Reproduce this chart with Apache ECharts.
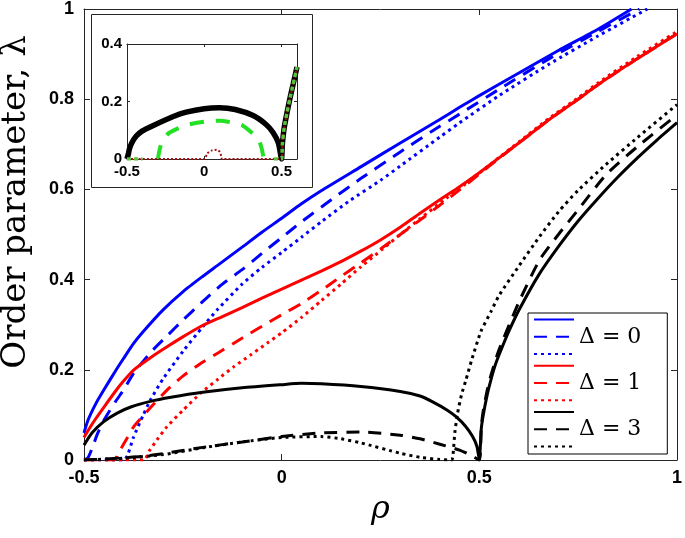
<!DOCTYPE html>
<html>
<head>
<meta charset="utf-8">
<script src="https://cdn.jsdelivr.net/npm/echarts@6/dist/echarts.min.js"></script>
<style>html,body{margin:0;padding:0;background:#fff}#c{width:685px;height:538px}</style>
</head>
<body>
<div id="c"></div>
<script>
// ---- main panel data: [rho, lambda] ----
const blueSolid = [[-0.5,0.06],[-0.49,0.088],[-0.47,0.125],[-0.45,0.155],[-0.42,0.198],[-0.4,0.225],[-0.374,0.259],[-0.35,0.285],[-0.3,0.333],[-0.25,0.373],[-0.2,0.407],[-0.163,0.431],[-0.1,0.472],[-0.05,0.505],[0,0.536],[0.05,0.568],[0.1,0.597],[0.2,0.65],[0.3,0.703],[0.4,0.755],[0.45,0.782],[0.5,0.808],[0.6,0.858],[0.7,0.908],[0.8,0.955],[0.885,1.0]];
const blueDashed = [[-0.5,0],[-0.49,0.005],[-0.48,0.025],[-0.465,0.06],[-0.449,0.089],[-0.42,0.13],[-0.4,0.155],[-0.374,0.193],[-0.33,0.24],[-0.29,0.275],[-0.25,0.31],[-0.205,0.347],[-0.15,0.39],[-0.1,0.422],[-0.05,0.458],[0,0.493],[0.05,0.528],[0.13,0.58],[0.2,0.624],[0.3,0.683],[0.4,0.74],[0.45,0.767],[0.55,0.822],[0.677,0.89],[0.8,0.95],[0.905,1.0]];
const blueDotted = [[-0.5,0],[-0.45,0],[-0.4,0],[-0.39,0.01],[-0.375,0.05],[-0.35,0.1],[-0.332,0.133],[-0.3,0.18],[-0.247,0.244],[-0.2,0.295],[-0.163,0.333],[-0.1,0.39],[-0.05,0.427],[0,0.46],[0.05,0.494],[0.1,0.528],[0.172,0.575],[0.25,0.62],[0.3,0.652],[0.4,0.716],[0.449,0.747],[0.55,0.808],[0.677,0.878],[0.8,0.94],[0.925,1.0]];
const redSolid = [[-0.5,0.05],[-0.49,0.065],[-0.47,0.092],[-0.449,0.118],[-0.42,0.153],[-0.4,0.175],[-0.374,0.2],[-0.33,0.228],[-0.29,0.251],[-0.25,0.273],[-0.205,0.296],[-0.15,0.318],[-0.1,0.338],[-0.05,0.359],[0,0.379],[0.05,0.399],[0.1,0.419],[0.15,0.44],[0.2,0.463],[0.25,0.488],[0.3,0.516],[0.35,0.547],[0.4,0.577],[0.45,0.606],[0.5,0.637],[0.55,0.67],[0.6,0.703],[0.677,0.755],[0.75,0.8],[0.8,0.832],[0.9,0.89],[1.0,0.945]];
const redDashed = [[-0.5,0],[-0.45,0],[-0.424,0],[-0.41,0.02],[-0.39,0.05],[-0.374,0.074],[-0.33,0.118],[-0.29,0.155],[-0.25,0.186],[-0.205,0.214],[-0.16,0.238],[-0.121,0.259],[-0.08,0.281],[-0.037,0.303],[0,0.322],[0.05,0.347],[0.1,0.376],[0.15,0.407],[0.2,0.437],[0.25,0.468],[0.3,0.5],[0.35,0.532],[0.4,0.565],[0.45,0.599],[0.5,0.634],[0.55,0.669],[0.6,0.703],[0.677,0.755],[0.75,0.8],[0.8,0.832],[0.9,0.89],[1.0,0.945]];
const redDotted = [[-0.5,0],[-0.4,0],[-0.348,0],[-0.335,0.02],[-0.315,0.045],[-0.29,0.074],[-0.25,0.11],[-0.205,0.148],[-0.16,0.18],[-0.121,0.207],[-0.08,0.232],[-0.037,0.259],[0,0.282],[0.05,0.316],[0.1,0.353],[0.15,0.39],[0.2,0.428],[0.256,0.468],[0.3,0.5],[0.35,0.535],[0.416,0.58],[0.466,0.613],[0.55,0.671],[0.6,0.705],[0.677,0.758],[0.75,0.803],[0.8,0.836],[0.9,0.895],[1.0,0.95]];
const blackSolid = [[-0.5,0.033],[-0.48,0.06],[-0.45,0.085],[-0.416,0.104],[-0.38,0.118],[-0.332,0.13],[-0.28,0.139],[-0.2,0.15],[-0.1,0.16],[0,0.167],[0.05,0.17],[0.1,0.169],[0.2,0.163],[0.3,0.152],[0.35,0.142],[0.382,0.129],[0.42,0.11],[0.441,0.096],[0.465,0.075],[0.483,0.052],[0.494,0.03],[0.5,0.0],[0.505,0.07],[0.51,0.1],[0.52,0.145],[0.53,0.18],[0.542,0.215],[0.56,0.255],[0.576,0.288],[0.6,0.332],[0.65,0.41],[0.7,0.473],[0.75,0.53],[0.8,0.58],[0.85,0.627],[0.9,0.67],[0.95,0.71],[1.0,0.748]];
const blackDashed = [[-0.5,0],[-0.45,0.002],[-0.4,0.005],[-0.35,0.008],[-0.3,0.014],[-0.2,0.028],[-0.1,0.04],[0,0.052],[0.1,0.06],[0.2,0.062],[0.3,0.055],[0.35,0.047],[0.4,0.035],[0.45,0.022],[0.48,0.01],[0.5,0],[0.505,0.075],[0.51,0.11],[0.52,0.155],[0.53,0.19],[0.55,0.245],[0.6,0.35],[0.652,0.443],[0.7,0.5],[0.75,0.555],[0.82,0.632],[0.9,0.695],[1.0,0.765]];
const blackDotted = [[-0.5,0],[-0.4,0.004],[-0.3,0.012],[-0.2,0.027],[-0.1,0.04],[0,0.05],[0.1,0.052],[0.15,0.047],[0.2,0.038],[0.3,0.015],[0.35,0.006],[0.4,0.001],[0.43,0],[0.433,0.007],[0.438,0.06],[0.445,0.104],[0.455,0.145],[0.466,0.177],[0.48,0.22],[0.504,0.285],[0.53,0.33],[0.55,0.365],[0.6,0.43],[0.652,0.495],[0.7,0.55],[0.75,0.598],[0.82,0.655],[0.9,0.715],[1.0,0.788]];

// ---- inset data ----
const insetBlackSolid = [[-0.5,0],[-0.49,0.02],[-0.485,0.034],[-0.47,0.055],[-0.44,0.08],[-0.4,0.098],[-0.333,0.116],[-0.2,0.148],[-0.117,0.163],[0,0.175],[0.099,0.178],[0.2,0.172],[0.316,0.151],[0.4,0.12],[0.445,0.092],[0.48,0.055],[0.5,0.0],[0.505,0.05],[0.517,0.108],[0.535,0.16],[0.554,0.21],[0.575,0.26],[0.6,0.32]];
const insetGreenDashed = [[-0.3,0],[-0.29,0.03],[-0.27,0.065],[-0.23,0.09],[-0.18,0.104],[-0.1,0.12],[0,0.13],[0.1,0.133],[0.2,0.125],[0.25,0.116],[0.3,0.095],[0.35,0.069],[0.37,0.04],[0.385,0]];
const insetGreenDotted = [[-0.5,0],[-0.4,0],null,[0.45,0],[0.5,0],[0.505,0.05],[0.517,0.108],[0.535,0.16],[0.554,0.21],[0.575,0.26],[0.6,0.32]];
const insetRedDotted = [[-0.5,0],[0,0],[0.02,0.02],[0.05,0.03],[0.08,0.032],[0.1,0.025],[0.11,0.01],[0.115,0],[0.5,0],[0.505,0.05],[0.517,0.108],[0.535,0.16],[0.554,0.21],[0.575,0.26],[0.6,0.32]];

const xTicks = [-0.5, 0, 0.5, 1];
const yTicks = [0, 0.2, 0.4, 0.6, 0.8, 1];
const legendLabels = {'D0 dashed':'\u0394 = 0','D1 dashed':'\u0394 = 1','D3 dashed':'\u0394 = 3'};

const BLUE = '#0000ff', RED = '#ff0000', BLACK = '#000000';
const DASH = [13, 9], DOT = [3, 4];
const tickFont = {fontFamily:'Liberation Sans, Arial, sans-serif', fontWeight:'bold', fontSize:18, color:'#000'};
const insetFont = {fontFamily:'Liberation Sans, Arial, sans-serif', fontWeight:'bold', fontSize:15, color:'#000'};

function mainLine(name, data, color, type) {
  return {name, type:'line', data, xAxisIndex:0, yAxisIndex:0, symbol:'none',
    smooth:0.2,
    lineStyle:{color, width:3, type, cap:'butt'}, itemStyle:{color}, z:3, silent:true};
}
function insetLine(name, data, color, width, type, z) {
  return {name, type:'line', data, xAxisIndex:2, yAxisIndex:2, symbol:'none', connectNulls:false,
    smooth:0.2,
    lineStyle:{color, width, type, cap:'butt'}, itemStyle:{color}, z:z, silent:true};
}

const axisLineStyle = {show:true, onZero:false, lineStyle:{color:'#262626', width:1}};
const chart = echarts.init(document.getElementById('c'), null, {renderer:'canvas'});
chart.setOption({
  animation:false,
  backgroundColor:'#fff',
  grid:[
    {left:84, right:7, top:9, bottom:78, show:false},
    {left:127, top:44, width:170, height:115, show:false}
  ],
  xAxis:[
    {type:'value', gridIndex:0, min:-0.5, max:1, interval:0.5, position:'bottom',
      axisLine:axisLineStyle, splitLine:{show:false},
      axisTick:{show:true, inside:true, length:6, lineStyle:{color:'#262626'}},
      axisLabel:Object.assign({margin:9, formatter:v=>xTicks.includes(+v.toFixed(2))?String(v):''}, tickFont),
      name:'\u03c1', nameLocation:'middle', nameGap:34,
      nameTextStyle:{fontFamily:'DejaVu Serif, serif', fontStyle:'italic', fontSize:32, color:'#000'}},
    {type:'value', gridIndex:0, min:-0.5, max:1, interval:0.5, position:'top',
      axisLine:axisLineStyle, splitLine:{show:false}, axisLabel:{show:false},
      axisTick:{show:true, inside:true, length:6, lineStyle:{color:'#262626'}}},
    {type:'value', gridIndex:1, min:-0.5, max:0.6, interval:0.5, position:'bottom',
      axisLine:axisLineStyle, splitLine:{show:false},
      axisTick:{show:true, inside:true, length:3, lineStyle:{color:'#262626'}},
      axisLabel:Object.assign({margin:5, showMaxLabel:false}, insetFont)},
    {type:'value', gridIndex:1, min:-0.5, max:0.6, interval:0.5, position:'top',
      axisLine:axisLineStyle, splitLine:{show:false}, axisLabel:{show:false},
      axisTick:{show:true, inside:true, length:3, lineStyle:{color:'#262626'}}}
  ],
  yAxis:[
    {type:'value', gridIndex:0, min:0, max:1, interval:0.2, position:'left',
      axisLine:axisLineStyle, splitLine:{show:false},
      axisTick:{show:true, inside:true, length:6, lineStyle:{color:'#262626'}},
      axisLabel:Object.assign({margin:10, formatter:v=>yTicks.includes(+v.toFixed(2))?String(+v.toFixed(1)):''}, tickFont)},
    {type:'value', gridIndex:0, min:0, max:1, interval:0.2, position:'right',
      axisLine:axisLineStyle, splitLine:{show:false}, axisLabel:{show:false},
      axisTick:{show:true, inside:true, length:6, lineStyle:{color:'#262626'}}},
    {type:'value', gridIndex:1, min:0, max:0.4, interval:0.2, position:'left',
      axisLine:axisLineStyle, splitLine:{show:false},
      axisTick:{show:true, inside:true, length:3, lineStyle:{color:'#262626'}},
      axisLabel:Object.assign({margin:5}, insetFont)},
    {type:'value', gridIndex:1, min:0, max:0.4, interval:0.2, position:'right',
      axisLine:axisLineStyle, splitLine:{show:false}, axisLabel:{show:false},
      axisTick:{show:true, inside:true, length:3, lineStyle:{color:'#262626'}}}
  ],
  legend:{
    show:true, orient:'vertical', left:528, top:313,
    data:['D0 solid','D0 dashed','D0 dotted','D1 solid','D1 dashed','D1 dotted','D3 solid','D3 dashed','D3 dotted'],
    itemWidth:40, itemHeight:14, itemGap:0.6, itemTextGap:8,
    padding:[1,26,2,5], borderColor:'#000', borderWidth:1, backgroundColor:'#fff',
    selectedMode:false,
    itemStyle:{color:'rgba(0,0,0,0)', borderWidth:0, opacity:0},
    formatter:n=>legendLabels[n]||'',
    textStyle:{fontFamily:'DejaVu Serif, serif', fontSize:22, lineHeight:12, color:'#000'}
  },
  graphic:[
    {type:'rect', z:-10, silent:true, shape:{x:91.5, y:14.5, width:221, height:173},
      style:{fill:'#fff', stroke:'#262626', lineWidth:1}},
    {type:'text', silent:true, x:16, y:202, rotation:Math.PI/2,
      style:{text:'Order parameter, \u03bb', fontFamily:'DejaVu Serif, serif', fontSize:34, fill:'#000',
        textAlign:'center', textVerticalAlign:'middle'}}
  ],
  series:[
    mainLine('D0 solid', blueSolid, BLUE, 'solid'),
    mainLine('D0 dashed', blueDashed, BLUE, DASH),
    mainLine('D0 dotted', blueDotted, BLUE, DOT),
    mainLine('D1 solid', redSolid, RED, 'solid'),
    mainLine('D1 dashed', redDashed, RED, DASH),
    mainLine('D1 dotted', redDotted, RED, DOT),
    mainLine('D3 solid', blackSolid, BLACK, 'solid'),
    mainLine('D3 dashed', blackDashed, BLACK, DASH),
    mainLine('D3 dotted', blackDotted, BLACK, DOT),
    insetLine('inset solid', insetBlackSolid, '#000000', 5.5, 'solid', 3),
    insetLine('inset dashed', insetGreenDashed, '#22e022', 4, [14,12], 4),
    insetLine('inset red dotted', insetRedDotted, '#a01010', 2, [2,2], 5),
    insetLine('inset green dotted', insetGreenDotted, '#5cc03c', 3.5, [4,3], 6)
  ]
});
</script>
</body>
</html>
